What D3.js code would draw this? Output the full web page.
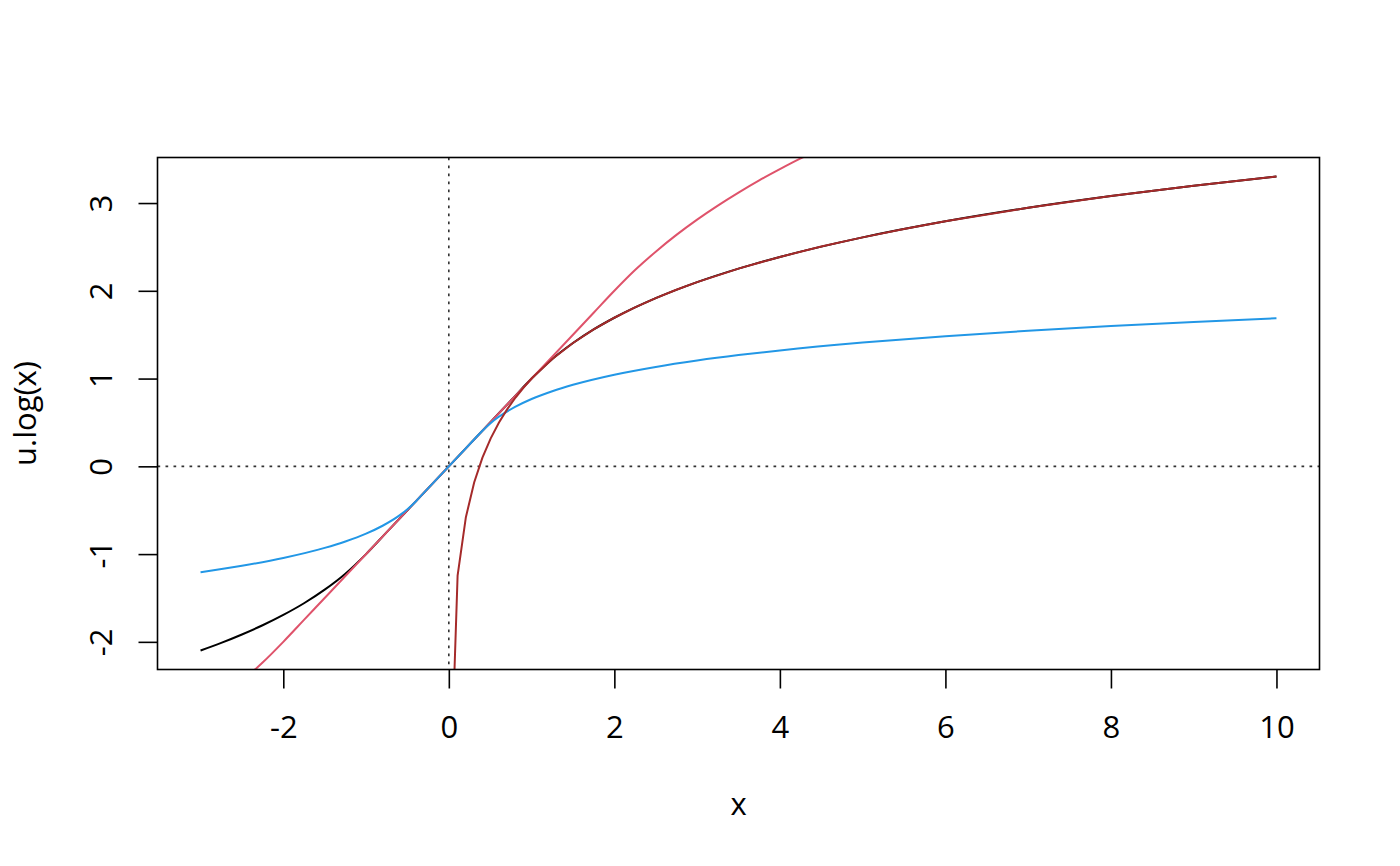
<!DOCTYPE html>
<html><head><meta charset="utf-8">
<script src="https://cdn.jsdelivr.net/npm/d3@7"></script>
<style>body{margin:0;background:#fff}svg text{font-family:"Open Sans",sans-serif;fill:#000}</style>
</head><body><svg id="c" width="1400" height="866"></svg>
<script>
// u.log(x) with c = 1 (black)
const blackX = [-3,-2.75,-2.5,-2.25,-2,-1.75,-1.5,-1.25,-1,-0.75,-0.5,0,0.5,0.75,1,1.25,1.5,1.75,2,2.5,3,3.5,4,5,6,7,8,9,10];
const blackY = [-2.099,-2.012,-1.916,-1.811,-1.693,-1.560,-1.405,-1.223,-1,-0.75,-0.5,0,0.5,0.75,1,1.223,1.405,1.560,1.693,1.916,2.099,2.253,2.386,2.609,2.792,2.946,3.079,3.197,3.303];
// c = 2 (red)
const redX = [-3,-2.75,-2.5,-2.25,-2,-1.75,-1.5,0,1.5,1.75,2,2.25,2.5,2.75,3,3.25,3.5,3.75,4,4.25,4.5,5];
const redY = [-2.811,-2.637,-2.446,-2.236,-2,-1.75,-1.5,0,1.5,1.75,2,2.236,2.446,2.637,2.811,2.971,3.119,3.258,3.386,3.508,3.622,3.833];
// c = 0.4 (blue)
const blueX = [-3,-2.5,-2,-1.5,-1.25,-1,-0.8,-0.6,-0.5,-0.4,-0.3,0,0.3,0.4,0.5,0.6,0.8,1,1.25,1.5,2,2.5,3,3.5,4,5,6,7,8,9,10];
const blueY = [-1.206,-1.133,-1.044,-0.929,-0.856,-0.767,-0.677,-0.562,-0.489,-0.4,-0.3,0,0.3,0.4,0.489,0.562,0.677,0.767,0.856,0.929,1.044,1.133,1.206,1.268,1.321,1.410,1.483,1.545,1.598,1.645,1.688];
// 1 + log(x) (brown)
const brownX = [0.006,0.106,0.206,0.306,0.406,0.506,0.606,0.706,0.806,0.906,1.006,1.25,1.5,1.75,2,2.25,2.5,2.75,3,3.5,4,4.5,5,5.5,6,7,8,9,10];
const brownY = [-4.116,-1.244,-0.580,-0.184,0.099,0.319,0.499,0.652,0.784,0.901,1.006,1.223,1.405,1.560,1.693,1.811,1.916,2.012,2.099,2.253,2.386,2.504,2.609,2.705,2.792,2.946,3.079,3.197,3.303];
const xTicks = [-2,0,2,4,6,8,10];
const yTicks = [-2,-1,0,1,2,3];

const L=157.5, R=1319.5, T=157.5, B=669.5;
const svg = d3.select("#c");
const x = d3.scaleLinear().domain([-3.52,10.52]).range([L,R]);
const y = d3.scaleLinear().domain([-2.315,3.519]).range([B,T]);

svg.append("defs").append("clipPath").attr("id","clip")
  .append("rect").attr("x",L).attr("y",T).attr("width",R-L).attr("height",B-T);

const g = svg.append("g").attr("clip-path","url(#clip)");
g.append("line").attr("x1",x(0)).attr("x2",x(0)).attr("y1",T).attr("y2",B)
  .attr("stroke","#333").attr("stroke-width",1.6).attr("stroke-dasharray","2.7,5.3");
g.append("line").attr("x1",L).attr("x2",R).attr("y1",y(0)).attr("y2",y(0))
  .attr("stroke","#333").attr("stroke-width",1.6).attr("stroke-dasharray","2.7,5.3");

function draw(xs, ys, col, curve){
  const pts = xs.map((v,i)=>[v,ys[i]]);
  g.append("path").datum(pts)
    .attr("d", d3.line().x(d=>x(d[0])).y(d=>y(d[1])).curve(curve))
    .attr("fill","none").attr("stroke",col).attr("stroke-width",2);
}
draw(blackX, blackY, "#000000", d3.curveMonotoneX);
draw(redX, redY, "#DF536B", d3.curveMonotoneX);
draw(blueX, blueY, "#2297E6", d3.curveMonotoneX);
draw(brownX, brownY, "#A52A2A", d3.curveLinear);

svg.append("rect").attr("x",L).attr("y",T).attr("width",R-L).attr("height",B-T)
  .attr("fill","none").attr("stroke","#000").attr("stroke-width",1.6);

const fmt = d => String(d);
const xa = svg.append("g").attr("transform",`translate(0,${B})`)
  .call(d3.axisBottom(x).tickValues(xTicks).tickSize(19).tickPadding(16).tickFormat(fmt));
const ya = svg.append("g").attr("transform",`translate(${L},0)`)
  .call(d3.axisLeft(y).tickValues(yTicks).tickSize(19).tickPadding(0).tickFormat(fmt));
[xa,ya].forEach(a=>{
  a.select(".domain").remove();
  a.selectAll(".tick line").attr("stroke","#000").attr("stroke-width",1.6);
  a.selectAll("text").style("font-size","31px").style("font-family","'Open Sans',sans-serif").attr("fill","#000");
});
ya.selectAll(".tick text").attr("x",null).attr("dy",null)
  .attr("transform","translate(-46,0) rotate(-90)").attr("text-anchor","middle");
xa.selectAll(".tick text").attr("dy",null).attr("y",68);

svg.append("text").attr("x",(L+R)/2).attr("y",815).attr("text-anchor","middle")
  .style("font-size","31px").text("x");
svg.append("text").attr("transform",`translate(36,${(T+B)/2}) rotate(-90)`).attr("text-anchor","middle")
  .style("font-size","31px").text("u.log(x)");
</script></body></html>
